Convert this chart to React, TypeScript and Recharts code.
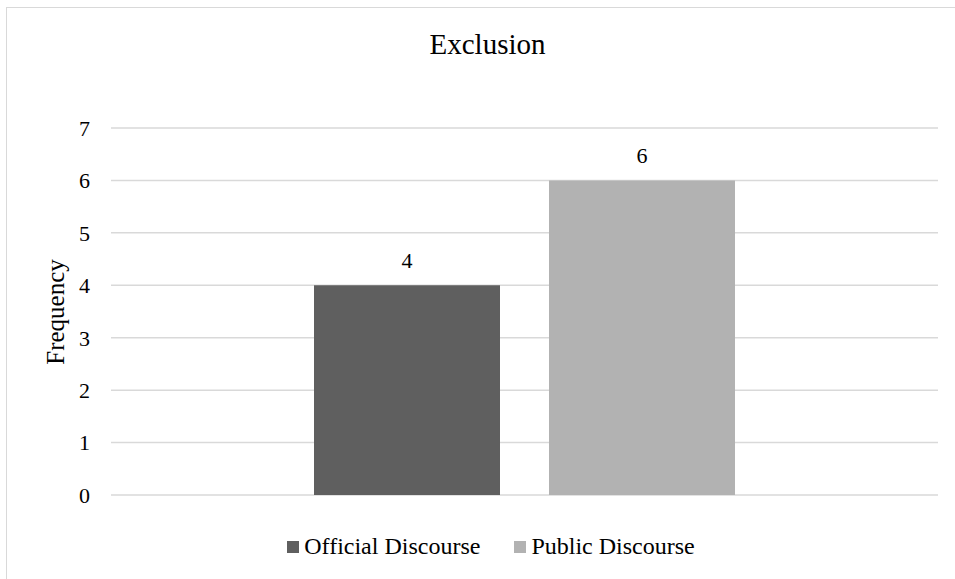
import { Bar, BarChart, CartesianGrid, LabelList, Legend, XAxis, YAxis } from "recharts";

const categories = ["Exclusion"];
const officialValues = [4];
const publicValues = [6];
const yTicks = [0, 1, 2, 3, 4, 5, 6, 7];

const series = [
  { key: "official", name: "Official Discourse", color: "#5f5f5f" },
  { key: "public", name: "Public Discourse", color: "#b2b2b2" },
];

const data = categories.map((category, i) => ({
  category,
  official: officialValues[i],
  public: publicValues[i],
}));

const font = "'Liberation Serif', 'Times New Roman', serif";

function LegendContent() {
  return (
    <div
      style={{
        display: "flex",
        justifyContent: "center",
        gap: 34,
        fontFamily: font,
        fontSize: 24,
        color: "#000",
        paddingLeft: 27,
        whiteSpace: "nowrap",
      }}
    >
      {series.map((s) => (
        <div key={s.key} style={{ display: "flex", alignItems: "center" }}>
          <span
            style={{
              display: "inline-block",
              width: 12,
              height: 12,
              background: s.color,
              marginRight: 5,
            }}
          />
          <span>{s.name}</span>
        </div>
      ))}
    </div>
  );
}

export default function App() {
  return (
    <div
      style={{
        position: "absolute",
        left: 0,
        top: 0,
        width: 955,
        height: 579,
        overflow: "hidden",
        background: "#fff",
      }}
    >
      <div
        style={{
          position: "absolute",
          left: 6,
          top: 7,
          width: 970,
          height: 600,
          border: "1.5px solid #d9d9d9",
        }}
      />
      <div
        style={{
          position: "absolute",
          left: 0,
          top: 28,
          width: 975,
          textAlign: "center",
          fontFamily: font,
          fontSize: 29,
          color: "#000",
        }}
      >
        Exclusion
      </div>
      <div
        style={{
          position: "absolute",
          left: 56,
          top: 312,
          transform: "translate(-50%, -50%) rotate(-90deg)",
          fontFamily: font,
          fontSize: 25,
          color: "#000",
          whiteSpace: "nowrap",
        }}
      >
        Frequency
      </div>
      <BarChart
        width={955}
        height={579}
        data={data}
        margin={{ top: 128, right: 17, bottom: 84, left: 0 }}
        barSize={186}
        barGap={49}
        style={{ position: "absolute", left: 0, top: 0 }}
      >
        <CartesianGrid vertical={false} stroke="#d9d9d9" strokeWidth={1.5} />
        <XAxis dataKey="category" hide />
        <YAxis
          width={111}
          domain={[0, 7]}
          ticks={yTicks}
          axisLine={false}
          tickLine={false}
          tickMargin={15}
          tick={{ fill: "#000", fontSize: 22, fontFamily: font }}
        />
        <Legend
          content={<LegendContent />}
          wrapperStyle={{ top: 533, left: 0, width: 955, height: 0 }}
        />
        {series.map((s) => (
          <Bar key={s.key} dataKey={s.key} name={s.name} fill={s.color} isAnimationActive={false}>
            <LabelList
              dataKey={s.key}
              position="top"
              offset={17}
              style={{ fill: "#000", fontSize: 22, fontFamily: font }}
            />
          </Bar>
        ))}
      </BarChart>
    </div>
  );
}
